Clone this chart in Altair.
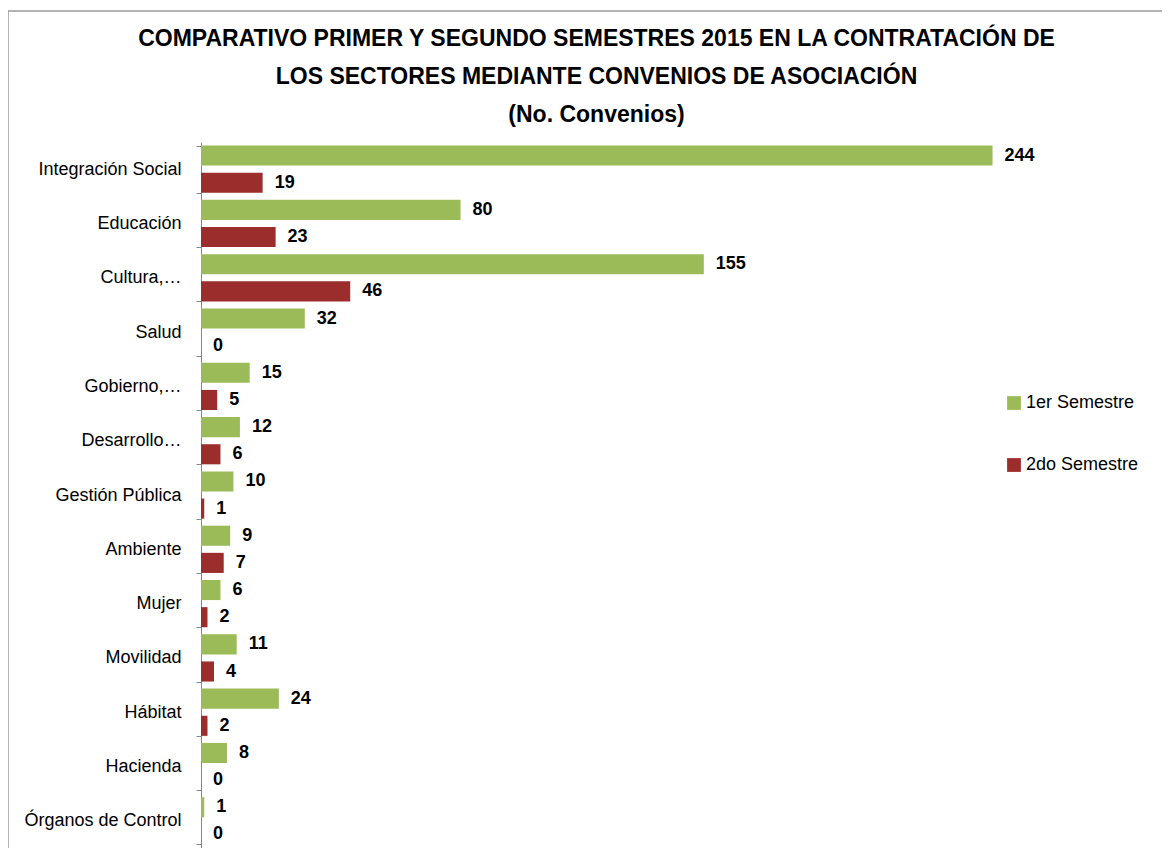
import altair as alt
import pandas as pd

categories = ["Integración Social", "Educación", "Cultura,…", "Salud", "Gobierno,…",
              "Desarrollo…", "Gestión Pública", "Ambiente", "Mujer", "Movilidad",
              "Hábitat", "Hacienda", "Órganos de Control"]
sem1 = [244, 80, 155, 32, 15, 12, 10, 9, 6, 11, 24, 8, 1]
sem2 = [19, 23, 46, 0, 5, 6, 1, 7, 2, 4, 2, 0, 0]
series = ["1er Semestre", "2do Semestre"]
colors = ["#9BBB59", "#9B2D2D"]

rows = []
for c, a, b in zip(categories, sem1, sem2):
    rows.append({"Sector": c, "Serie": series[0], "Valor": a})
    rows.append({"Sector": c, "Serie": series[1], "Valor": b})
df = pd.DataFrame(rows)

FONT = "Liberation Sans Narrow, Liberation Sans, sans-serif"

y = alt.Y("Sector:N", sort=categories, title=None,
          scale=alt.Scale(paddingInner=0.13, paddingOuter=0.065),
          axis=alt.Axis(tickBand="extent", domainColor="#888888", tickColor="#888888",
                        tickSize=5, labelPadding=15, labelFontSize=18, labelColor="#000000",
                        labelFont=FONT, labelLimit=300))
yoff = alt.YOffset("Serie:N", sort=series, scale=alt.Scale(paddingInner=0.26))
x = alt.X("Valor:Q", scale=alt.Scale(domain=[0, 250]), axis=None, title=None)

base = alt.Chart(df).encode(y=y, yOffset=yoff, x=x)

bars = base.mark_bar().encode(
    color=alt.Color("Serie:N", sort=series,
                    scale=alt.Scale(domain=series, range=colors),
                    legend=alt.Legend(title=None, orient="none", legendX=804, legendY=252,
                                      symbolType="square", symbolSize=190, symbolStrokeWidth=0,
                                      labelFontSize=18, labelFont=FONT, labelColor="#000000",
                                      rowPadding=44, padding=0, labelOffset=3))
)
labels = base.mark_text(align="left", baseline="middle", dx=12, fontWeight="bold",
                        fontSize=18, font=FONT, color="#000000").encode(text="Valor:Q")

# chart frame (decoration)
frame_df = pd.DataFrame({"k": [0]})
frame_top = alt.Chart(frame_df).mark_rule(color="#9a9a9a", strokeWidth=1.5).encode(
    x=alt.value(-193), x2=alt.value(961), y=alt.value(-131))
frame_left = alt.Chart(frame_df).mark_rule(color="#9a9a9a", strokeWidth=1.5).encode(
    x=alt.value(-193), y=alt.value(-131), y2=alt.value(720))

chart = (frame_top + frame_left + bars + labels).properties(
    width=811, height=706,
    autosize=alt.AutoSizeParams(type="none"),
    padding={"left": 193, "top": 134, "right": 150, "bottom": 0},
    title=alt.Title(
        ["COMPARATIVO PRIMER Y SEGUNDO SEMESTRES 2015 EN LA CONTRATACIÓN DE",
         "LOS SECTORES MEDIANTE CONVENIOS DE ASOCIACIÓN", "(No. Convenios)"],
        font=FONT, fontSize=23, fontWeight="bold", color="#000000",
        lineHeight=38, anchor="middle", frame="group", dx=-10, offset=-117)
).configure(background="white").configure_view(stroke=None)

chart.save("out.html", embed_options={"renderer": "svg", "actions": False})
